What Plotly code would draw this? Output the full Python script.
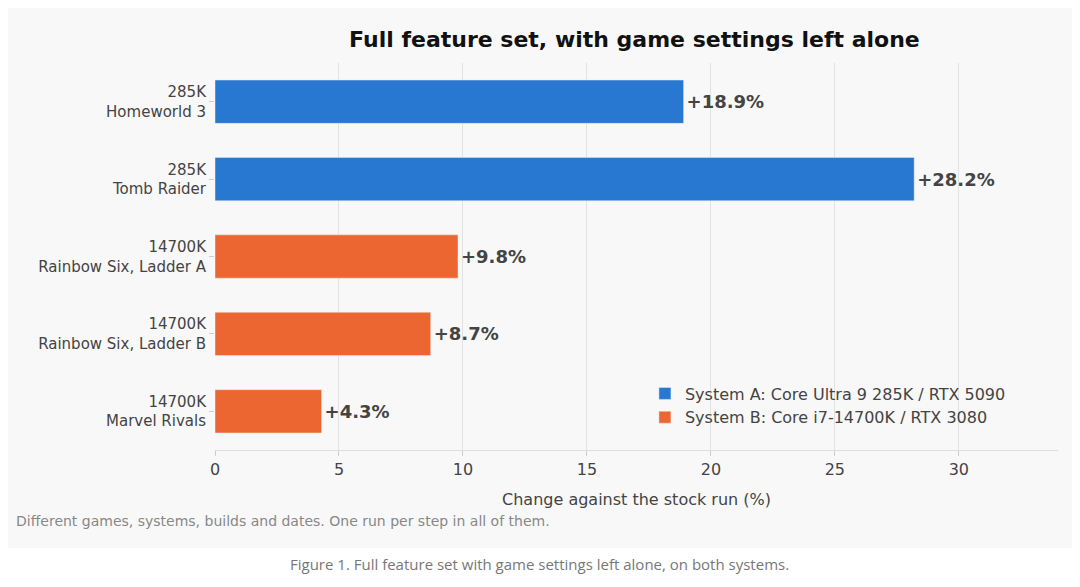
import plotly.graph_objects as go

labels = ["285K<br>Homeworld 3", "285K<br>Tomb Raider", "14700K<br>Rainbow Six, Ladder A",
          "14700K<br>Rainbow Six, Ladder B", "14700K<br>Marvel Rivals"]
values = [18.9, 28.2, 9.8, 8.7, 4.3]
systems = ["A", "A", "B", "B", "B"]
series_names = {"A": "System A: Core Ultra 9 285K / RTX 5090",
                "B": "System B: Core i7-14700K / RTX 3080"}
colors = {"A": "#2878d1", "B": "#ec6632"}

fig = go.Figure()
for s in ["A", "B"]:
    idx = [i for i, v in enumerate(systems) if v == s]
    fig.add_trace(go.Bar(
        x=[values[i] for i in idx], y=idx, orientation="h",
        name=series_names[s], marker_color=colors[s], width=0.56,
        text=["<b>+%.1f%%</b>" % values[i] for i in idx],
        textposition="outside", textfont=dict(size=18, color="#444"),
        cliponaxis=False,
    ))

fig.add_shape(type="rect", xref="paper", yref="paper", x0=-0.25, x1=1.04,
              y0=-0.253, y1=1.15, fillcolor="#f8f8f8", line_width=0, layer="below")

fig.update_layout(
    width=1080, height=587,
    margin=dict(l=207, r=30, t=55, b=145),
    paper_bgcolor="white", plot_bgcolor="rgba(0,0,0,0)",
    font=dict(family="DejaVu Sans", color="#444", size=14),
    title=dict(text="<b>Full feature set, with game settings left alone</b>",
               x=0.58, xanchor="center", y=0.96, font=dict(size=22, color="#111")),
    xaxis=dict(range=[0, 34], dtick=5, showgrid=True, gridcolor="#e2e2e2",
               zeroline=False, showline=True, linecolor="#ddd", ticks="outside",
               ticklen=5, tickcolor="#ccc", tickfont=dict(size=16),
               title=dict(text="Change against the stock run (%)", font=dict(size=16))),
    yaxis=dict(range=[4.5, -0.5], tickvals=list(range(5)), ticktext=labels,
               showgrid=False, zeroline=False, ticks="outside", ticklen=5,
               tickcolor="#ccc", tickfont=dict(size=15)),
    legend=dict(x=0.51, y=0.04, xanchor="left", yanchor="bottom",
                bgcolor="rgba(0,0,0,0)", font=dict(size=16)),
    bargap=0.3,
)
fig.add_annotation(text="Different games, systems, builds and dates. One run per step in all of them.",
                   xref="paper", yref="paper", x=-0.238, y=-0.21, xanchor="left",
                   showarrow=False, font=dict(size=14, color="#888"))
fig.add_annotation(text="Figure 1. Full feature set with game settings left alone, on both systems.",
                   xref="paper", yref="paper", x=0.385, y=-0.325, xanchor="center",
                   showarrow=False, font=dict(size=15, color="#777", family="Open Sans"))
fig.write_html("out.html")
